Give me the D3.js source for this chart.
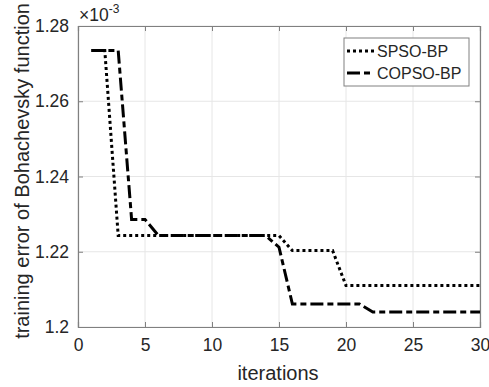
<!DOCTYPE html>
<html>
<head>
<meta charset="utf-8">
<script src="https://cdn.jsdelivr.net/npm/d3@7"></script>
<style>
  body { margin: 0; background: #fff; }
  text { font-family: "Liberation Sans", Arial, sans-serif; fill: #262626; }
</style>
</head>
<body>
<div id="chart"></div>
<script>
// iterations and training error (units of 1e-3)
var iterations = d3.range(1, 31);
var spso = [1.2735, 1.2735,
  1.2243, 1.2243, 1.2243, 1.2243, 1.2243, 1.2243, 1.2243, 1.2243, 1.2243, 1.2243, 1.2243, 1.2243, 1.2243,
  1.2203, 1.2203, 1.2203, 1.2203,
  1.2110, 1.2110, 1.2110, 1.2110, 1.2110, 1.2110, 1.2110, 1.2110, 1.2110, 1.2110, 1.2110];
var copso = [1.2735, 1.2735, 1.2735,
  1.2286, 1.2286,
  1.2243, 1.2243, 1.2243, 1.2243, 1.2243, 1.2243, 1.2243, 1.2243, 1.2243,
  1.2212,
  1.2061, 1.2061, 1.2061, 1.2061, 1.2061, 1.2061,
  1.2040, 1.2040, 1.2040, 1.2040, 1.2040, 1.2040, 1.2040, 1.2040, 1.2040];
var xTicks = [0, 5, 10, 15, 20, 25, 30];
var yTicks = [1.2, 1.22, 1.24, 1.26, 1.28];
var seriesNames = ["SPSO-BP", "COPSO-BP"];

var W = 489, H = 387;
var margin = { top: 26, right: 9, bottom: 60, left: 78 },
  width = W - margin.left - margin.right,
  height = H - margin.top - margin.bottom;

var svg = d3.select("#chart").append("svg")
  .attr("width", W).attr("height", H);
var g = svg.append("g")
  .attr("transform", "translate(" + margin.left + "," + margin.top + ")");

var x = d3.scaleLinear().domain([0, 30]).range([0, width]);
var y = d3.scaleLinear().domain([1.2, 1.28]).range([height, 0]);

// grid
g.selectAll(".gx").data(xTicks).enter().append("line")
  .attr("x1", d => x(d)).attr("x2", d => x(d))
  .attr("y1", 0).attr("y2", height)
  .attr("stroke", "#e6e6e6").attr("stroke-width", 1);
g.selectAll(".gy").data(yTicks).enter().append("line")
  .attr("x1", 0).attr("x2", width)
  .attr("y1", d => y(d)).attr("y2", d => y(d))
  .attr("stroke", "#e6e6e6").attr("stroke-width", 1);

// axes (ticks inside)
var xAxis = g.append("g").attr("transform", "translate(0," + height + ")")
  .call(d3.axisBottom(x).tickValues(xTicks).tickSize(-5).tickPadding(12).tickFormat(d3.format("d")));
var xTop = g.append("g")
  .call(d3.axisTop(x).tickValues(xTicks).tickSize(-5).tickFormat(""));
var yAxis = g.append("g")
  .call(d3.axisLeft(y).tickValues(yTicks).tickSize(-5).tickPadding(9).tickFormat(d => d3.format("")(+d.toFixed(2))));
var yRight = g.append("g").attr("transform", "translate(" + width + ",0)")
  .call(d3.axisRight(y).tickValues(yTicks).tickSize(-5).tickFormat(""));
[xAxis, xTop, yAxis, yRight].forEach(function (a) {
  a.select(".domain").attr("stroke", "#808080").attr("stroke-width", 1.2);
  a.selectAll(".tick line").attr("stroke", "#808080");
  a.selectAll("text").attr("font-size", 17.5).attr("fill", "#262626")
    .attr("font-family", "Liberation Sans, Arial, sans-serif");
});

// exponent label
var ex = svg.append("text").attr("x", margin.left + 1).attr("y", 21).attr("font-size", 17.5);
ex.append("tspan").text("\u00d710");
ex.append("tspan").attr("dy", -8).attr("font-size", 12).text("-3");

// lines
var line = d3.line().x((d, i) => x(iterations[i])).y(d => y(d));
g.append("path").datum(spso)
  .attr("fill", "none").attr("stroke", "#000").attr("stroke-width", 3)
  .attr("stroke-dasharray", "3,3").attr("d", line);
g.append("path").datum(copso)
  .attr("fill", "none").attr("stroke", "#000").attr("stroke-width", 3)
  .attr("stroke-dasharray", "13,4,6,4").attr("d", line);

// axis labels
svg.append("text").attr("x", 278).attr("y", 380)
  .attr("text-anchor", "middle").attr("font-size", 20).text("iterations");
svg.append("text").attr("transform", "translate(29,171) rotate(-90)")
  .attr("text-anchor", "middle").attr("font-size", 20)
  .text("training error of Bohachevsky function");

// legend
var lg = svg.append("g").attr("transform", "translate(344,38)");
lg.append("rect").attr("width", 125).attr("height", 48)
  .attr("fill", "#fff").attr("stroke", "#808080").attr("stroke-width", 1);
var dashes = ["3,3", "13,4,6,4"];
seriesNames.forEach(function (name, i) {
  var yy = 13 + i * 22;
  lg.append("line").attr("x1", 3).attr("x2", 30).attr("y1", yy).attr("y2", yy)
    .attr("stroke", "#000").attr("stroke-width", 3).attr("stroke-dasharray", dashes[i]);
  lg.append("text").attr("x", 33).attr("y", yy + 6).attr("font-size", 16).text(name);
});
</script>
</body>
</html>
